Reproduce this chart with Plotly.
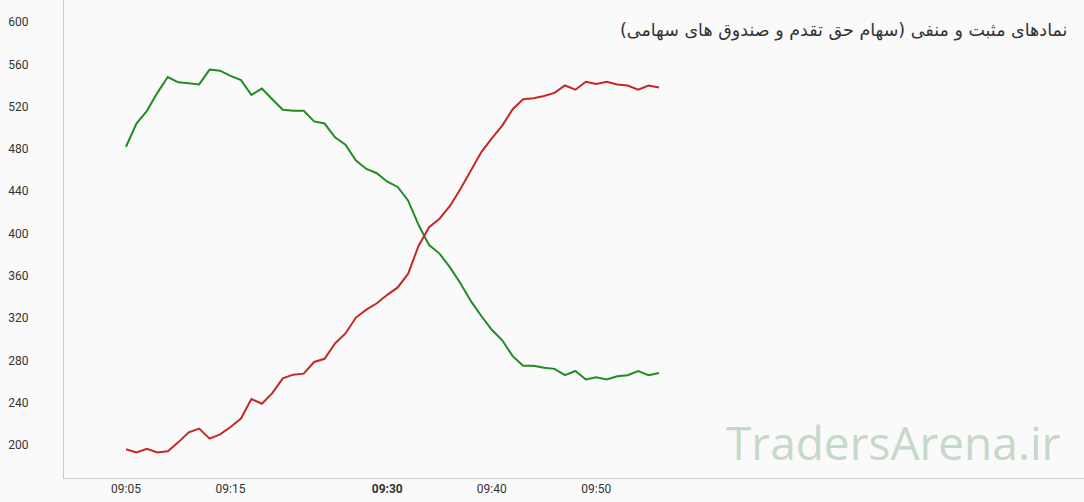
import plotly.graph_objects as go

# one point per minute, 09:05 .. 09:56
times = ["2024-01-01 09:%02d" % m for m in range(5, 57)]

positive = [482, 504, 516, 533, 548, 543, 542, 541, 555, 554,
            549, 545, 531, 537, 527, 517, 516, 516, 506, 504,
            491, 484, 469, 461, 457, 449, 444, 431, 408, 389,
            381, 368, 353, 336, 322, 309, 299, 284, 275, 275,
            273, 272, 266, 270, 262, 264, 262, 265, 266, 270,
            266, 268]

negative = [196, 193, 196.5, 193, 194, 202.5, 212, 215.5, 206, 210,
            217, 225, 243.5, 239, 249, 263, 266.5, 267.5, 278.5, 281.5,
            296, 305.5, 320.5, 328, 334, 342, 349, 362, 388.5, 406,
            414, 426, 442, 459.5, 477, 490, 502, 517.5, 527, 528,
            530, 533, 540, 536, 543.5, 541.5, 543.5, 541, 540, 536,
            540, 538]

x_ticks = ["2024-01-01 09:05", "2024-01-01 09:15", "2024-01-01 09:30",
           "2024-01-01 09:40", "2024-01-01 09:50"]
x_labels = ["09:05", "09:15", "<b>09:30</b>", "09:40", "09:50"]
y_ticks = list(range(200, 601, 40))

title = "نمادهای مثبت و منفی (سهام حق تقدم و صندوق های سهامی)"

fig = go.Figure()
fig.add_trace(go.Scatter(x=times, y=positive, mode="lines", name="مثبت",
                         line=dict(color="#228b22", width=2)))
fig.add_trace(go.Scatter(x=times, y=negative, mode="lines", name="منفی",
                         line=dict(color="#c62828", width=2)))

fig.update_layout(
    width=1084, height=502,
    margin=dict(l=64, r=0, t=0, b=24),
    paper_bgcolor="#fafafa", plot_bgcolor="#fafafa",
    showlegend=False,
    font=dict(family="Roboto, DejaVu Sans", size=12, color="#333333"),
    xaxis=dict(type="date", range=["2024-01-01 08:59:04", "2024-01-01 10:36:40"],
               tickvals=x_ticks, ticktext=x_labels, showgrid=False,
               showline=True, linecolor="#cccccc", linewidth=1,
               zeroline=False, ticks=""),
    yaxis=dict(range=[168.8, 620.8], tickvals=y_ticks, showgrid=False,
               showline=True, linecolor="#cccccc", linewidth=1,
               zeroline=False, ticks="", ticklabelstandoff=32),
)

fig.add_annotation(text=title, xref="paper", yref="paper", x=0.9855, y=0.937,
                   xanchor="right", yanchor="middle", showarrow=False,
                   font=dict(family="DejaVu Sans", size=17.5, color="#333333"))
fig.add_annotation(text="TradersArena.ir", xref="paper", yref="paper", x=0.9795, y=0.076,
                   xanchor="right", yanchor="middle", showarrow=False,
                   font=dict(family="Open Sans", size=46, color="#c5d9c9"))

# page body has a default 8px margin; drop it so the chart sits at 0,0
fig.write_html("out.html", config={"displayModeBar": False},
               post_script="document.body.style.margin='0';")
